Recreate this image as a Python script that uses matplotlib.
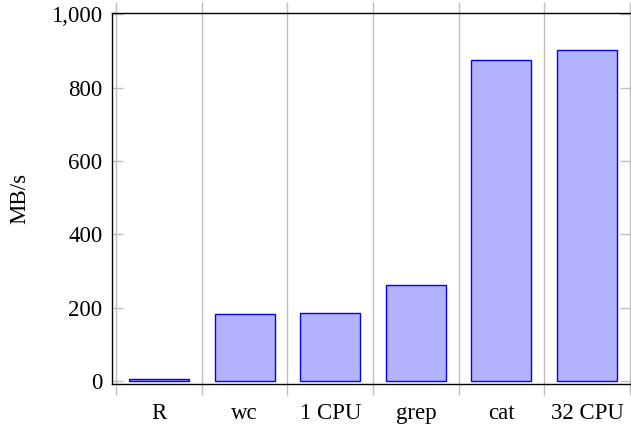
import matplotlib
matplotlib.use('Agg')
import matplotlib.pyplot as plt
from matplotlib.ticker import FuncFormatter, FixedLocator

plt.rcParams['font.family'] = ['Liberation Serif', 'DejaVu Serif']

# Durchsatz je Werkzeug
labels = ['R', 'wc', '1 CPU', 'grep', 'cat', '32 CPU']
mbps = [7, 183, 186, 262, 876, 904]

fig = plt.figure(figsize=(6.31, 4.25), dpi=100)
ax = fig.add_axes([112 / 631, 41 / 425, 518.5 / 631, 371 / 425])

xs = list(range(len(labels)))
ax.bar(xs, mbps, width=0.7, color='#b3b3ff', edgecolor='blue', linewidth=1, zorder=3)

ax.set_xlim(-0.548, 5.507)
ax.set_ylim(-8, 1004)

ax.set_xticks(xs)
ax.set_xticklabels(labels)
ax.xaxis.set_minor_locator(FixedLocator([x - 0.5 for x in range(len(labels) + 1)]))
ax.tick_params(axis='x', which='major', length=0, pad=13.5, labelsize=16.5)
ax.tick_params(axis='x', which='minor', direction='out', length=8, width=1,
               color='#bfbfbf', top=True, bottom=True)
ax.grid(axis='x', which='minor', color='#bfbfbf', linewidth=1, zorder=0)

ax.set_yticks([0, 200, 400, 600, 800, 1000])
ax.yaxis.set_major_formatter(FuncFormatter(lambda v, p: '{:,.0f}'.format(v)))
ax.tick_params(axis='y', direction='in', length=8, width=1, color='#bfbfbf',
               left=True, right=True, pad=7, labelsize=16.5)

ax.set_ylabel('MB/s', fontsize=16.5, labelpad=15)

for s in ax.spines.values():
    s.set_linewidth(1)
    s.set_color('black')
ax.spines['right'].set_visible(False)

fig.savefig('out.png', dpi=100)
